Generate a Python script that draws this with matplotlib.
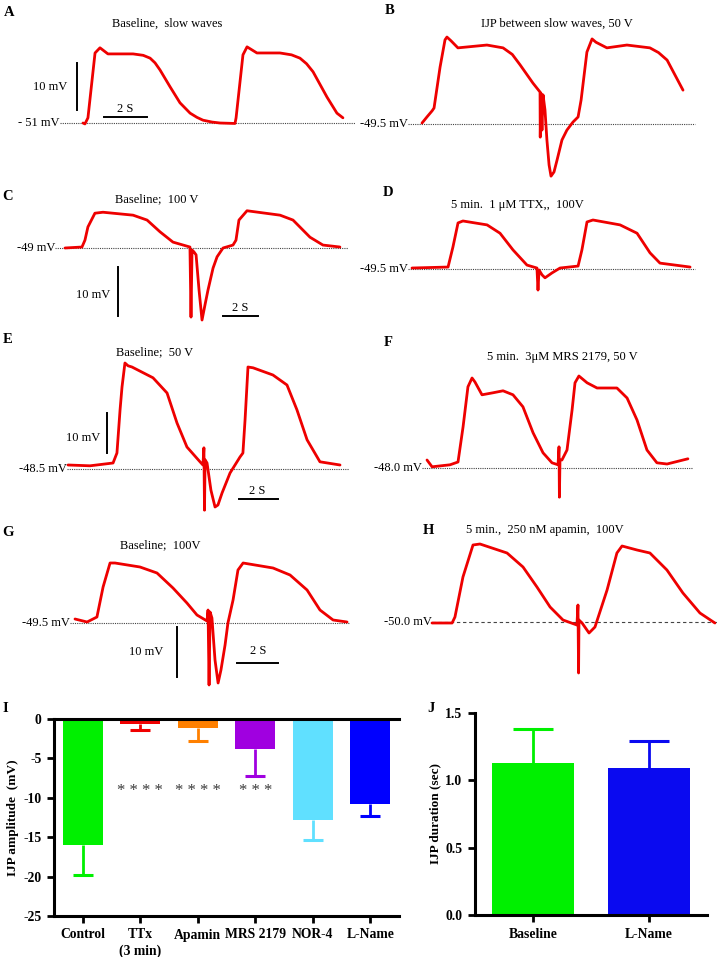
import matplotlib
matplotlib.use('Agg')
import matplotlib.pyplot as plt
import numpy as np

# ---------------- trace data (time in s, membrane potential in mV relative to baseline) ----------------
A_t = [0, 0.09, 0.23, 0.56, 0.79, 1.16, 2.33, 2.8, 3.12, 3.35, 3.58, 4.05, 4.51, 4.98, 5.3, 5.58, 6.0, 6.37, 7.07, 7.12,
       7.44, 7.63, 8.09, 9.16, 9.7, 10.09, 10.40, 10.70, 11.35, 11.81, 12.09]
A_mV = [0, -0.2, 1.1, 14.9, 16.0, 14.7, 14.7, 14.4, 13.8, 12.8, 11.3, 7.7, 4.3, 2.1, 1.2, 0.6, 0.2, 0, -0.1, 1.1,
        14.5, 16.2, 14.9, 14.9, 14.5, 13.8, 12.6, 10.9, 5.5, 2.1, 1.1]

B_t = [0, 0.23, 0.47, 0.56, 0.84, 1.07, 1.16, 1.35, 1.67, 3.02, 3.77, 4.2, 4.56, 5.16, 5.49, 5.50, 5.53,
       5.58, 5.63, 5.72, 5.81, 5.91, 6.00, 6.14, 6.28, 6.51, 6.74, 7.02, 7.26, 7.40, 7.67, 7.91, 8.09,
       8.60, 9.53, 10.6, 11.0, 11.4, 12.14]
B_mV = [0.2, 1.5, 2.8, 3.4, 12.1, 17.9, 18.5, 17.7, 16.2, 16.8, 16.2, 14.8, 12.6, 8.7, 6.8, -2.8, 6.6,
        -1.3, 6.2, 3.0, -3.4, -8.7, -11.1, -10.2, -7.7, -3.4, -1.3, 0.4, 1.5, 5.1, 15.3, 18.1, 17.4,
        16.2, 16.8, 16.2, 15.2, 13.6, 7.2]

C_t = [0, 0.97, 1.14, 1.31, 1.71, 2.17, 3.89, 4.69, 5.43, 6.17, 7.14, 7.20, 7.26, 7.37, 7.49, 7.66,
       7.83, 8.00, 8.17, 8.46, 8.69, 9.03, 9.60, 9.77, 9.94, 10.4, 12.29, 13.03, 14.0, 14.74, 15.71]
C_mV = [0, 0.2, 1.6, 4.3, 7.1, 7.3, 6.7, 5.7, 3.3, 1.2, 0.2, -14.1, -0.4, -0.8, -1.4, -8.6,
        -14.7, -11.6, -8.6, -4.1, -1.8, 0, 0.6, 1.6, 5.7, 7.6, 6.7, 5.7, 2.2, 0.6, 0.2]

D_t = [0, 2.06, 2.34, 2.63, 2.91, 4.29, 5.03, 5.77, 6.57, 7.14, 7.20, 7.26, 7.43, 7.60, 8.00, 8.46,
       9.49, 9.71, 10.0, 10.34, 11.89, 12.86, 13.6, 14.17, 15.89]
D_mV = [0.2, 0.4, 4.5, 9.4, 9.8, 9.0, 7.3, 3.9, 0.8, 0.2, -4.3, -0.2, -1.2, -1.8, -0.8, 0.2,
        0.6, 3.9, 9.6, 10.0, 9.0, 7.3, 3.3, 1.2, 0.4]

E_t = [0, 1.13, 2.31, 2.51, 2.67, 2.77, 2.92, 3.08, 3.28, 4.36, 5.08, 5.59, 6.10, 6.77, 6.92, 6.97,
       7.00, 7.03, 7.13, 7.33, 7.54, 7.69, 7.90, 8.31, 8.82, 8.97, 9.08, 9.23, 9.49, 10.51, 11.23,
       11.74, 12.26, 12.92, 13.95]
E_mV = [1.0, 0.8, 1.5, 4.0, 14.8, 20.5, 26.5, 25.8, 25.5, 22.8, 19.0, 11.5, 5.5, 1.8, 1.0, 5.3,
        -10.3, 2.3, 1.5, -5.3, -9.5, -9.0, -6.0, -1.0, 3.0, 4.0, 12.3, 25.5, 25.3, 23.5, 21.0,
        14.8, 7.3, 1.8, 1.0]

F_t = [0, 0.26, 1.18, 1.59, 1.85, 2.10, 2.31, 2.46, 2.82, 3.38, 3.90, 4.41, 4.92, 5.44, 5.95, 6.41,
       6.72, 6.77, 6.79, 6.82, 6.92, 7.18, 7.44, 7.59, 7.79, 8.21, 8.72, 9.74, 10.26, 10.77, 11.28,
       11.79, 12.31, 13.38]
F_mV = [2.0, 0.3, 0.8, 1.5, 10.3, 20.3, 22.5, 21.5, 18.3, 18.8, 19.3, 18.3, 15.3, 8.8, 3.8, 1.3,
        0.8, 5.3, -7.3, 2.0, 2.0, 4.5, 14.5, 21.3, 23.0, 21.3, 20.0, 20.0, 17.5, 12.0, 4.5,
        1.3, 1.0, 2.3]

G_t = [0, 0.59, 1.07, 1.37, 1.71, 1.95, 3.17, 4.00, 4.78, 5.46, 5.95, 6.44, 6.49, 6.54, 6.59, 6.68,
       6.83, 6.98, 7.12, 7.32, 7.46, 7.71, 7.95, 8.20, 9.66, 10.49, 11.32, 11.95, 12.59, 13.27]
G_mV = [0.8, 0.2, 1.2, 7.2, 12.0, 12.0, 11.2, 10.0, 7.0, 4.0, 1.6, 0.4, 2.6, -12.4, 2.2, 1.0,
        -7.4, -12.0, -9.4, -4.4, 0, 4.6, 10.6, 12.0, 11.0, 9.6, 6.6, 2.6, 0.6, 0.2]

H_t = [0, 0.98, 1.12, 1.51, 2.00, 2.34, 3.66, 4.44, 5.12, 5.76, 6.39, 7.07, 7.12, 7.15, 7.17, 7.32,
       7.66, 7.95, 8.54, 9.02, 9.27, 10.0, 10.63, 11.46, 12.24, 13.07, 13.8]
H_mV = [-0.2, -0.2, 1.0, 9.0, 15.4, 15.6, 13.8, 11.0, 7.0, 3.0, 0.4, -0.6, 3.4, -10.2, 0.4, -0.2,
        -2.2, -1.0, 6.4, 13.8, 15.2, 14.4, 13.8, 10.4, 5.8, 1.8, -0.2]

trace_titles = ["Baseline,  slow waves", "IJP between slow waves, 50 V", "Baseline;  100 V",
                "5 min.  1 \u03bcM TTX,,  100V", "Baseline;  50 V", "5 min.  3\u03bcM MRS 2179, 50 V",
                "Baseline;  100V", "5 min.,  250 nM apamin,  100V"]
baseline_labels = ["- 51 mV", "-49.5 mV", "-49 mV", "-49.5 mV", "-48.5 mV", "-48.0 mV",
                   "-49.5 mV", "-50.0 mV"]

# ---------------- bar data ----------------
I_categories = ["Control", "TTx\n(3 min)", "Apamin", "MRS 2179", "NOR-4", "L-Name"]
I_mean = [-16.0, -0.6, -1.2, -3.8, -12.8, -10.8]
I_err = [3.8, 0.8, 1.55, 3.4, 2.6, 1.5]
I_stars = ["", "* * * *", "* * * *", "* * *", "", ""]
I_colors = ["#00f000", "#f00000", "#ff8000", "#a000e0", "#60e0ff", "#0000ff"]

J_categories = ["Baseline", "L-Name"]
J_mean = [1.126, 1.089]
J_err = [0.257, 0.20]
J_colors = ["#00f000", "#0a0af0"]

# ---------------- figure ----------------
plt.rcParams['font.family'] = ['Liberation Serif', 'DejaVu Serif']
plt.rcParams['axes.unicode_minus'] = False
W, H = 720, 957
fig = plt.figure(figsize=(7.2, 9.57), dpi=100)
RED = '#ee0000'


def fx(x):
    return x / W


def fy(y):
    return 1 - y / H


def trace_panel(t, v, xb, yb, sx, sy, base_px, base_style, bars=None):
    ax = fig.add_axes([0, 0, 1, 1])
    ax.set_xlim(-xb / sx, (W - xb) / sx)
    ax.set_ylim(-(H - yb) / sy, yb / sy)
    ax.axis('off')
    ax.patch.set_alpha(0)
    x0, x1 = base_px
    ax.plot([(x0 - xb) / sx, (x1 - xb) / sx], [0, 0], color='#444444', lw=0.8, ls=base_style)
    ax.plot(t, v, color=RED, lw=2.0, solid_joinstyle='round', solid_capstyle='round')
    if bars:
        (vx, vyb), (hx, hy) = bars
        tv = (vx - xb) / sx
        vv = (yb - vyb) / sy
        ax.plot([tv, tv], [vv, vv + 10], color='k', lw=1.4)
        th = (hx - xb) / sx
        vh = (yb - hy) / sy
        ax.plot([th, th + 2], [vh, vh], color='k', lw=1.4)
    return ax


dot = (0, (1, 1))
trace_panel(A_t, A_mV, 83, 123, 21.5, 4.7, (60, 355), dot, ((77, 110), (104, 117)))
trace_panel(B_t, B_mV, 422, 124, 21.5, 4.7, (408, 695), dot)
trace_panel(C_t, C_mV, 65, 248, 17.5, 4.9, (55, 348), dot, ((118, 316), (223, 316)))
trace_panel(D_t, D_mV, 412, 269, 17.5, 4.9, (408, 695), dot)
trace_panel(E_t, E_mV, 68, 469, 19.5, 4.0, (67, 349), dot, ((107, 453), (239, 499)))
trace_panel(F_t, F_mV, 427, 468, 19.5, 4.0, (422, 693), dot)
trace_panel(G_t, G_mV, 75, 623, 20.5, 5.0, (70, 349), dot, ((177, 677), (237, 663)))
trace_panel(H_t, H_mV, 432, 622, 20.5, 5.0, (432, 717), (0, (3, 2.5)))

TFS = 9
# titles
title_pos = [(167, 24), (557, 24), (157, 199), (517, 205), (155, 352), (562, 357), (160, 545), (545, 530)]
for s, (x, y) in zip(trace_titles, title_pos):
    fig.text(fx(x), fy(y), s, ha='center', va='center', fontsize=TFS)
# baseline labels
bl_pos = [(60, 123), (408, 124), (55, 248), (408, 269), (67, 469), (422, 468), (70, 623), (432, 622)]
for s, (x, y) in zip(baseline_labels, bl_pos):
    fig.text(fx(x), fy(y), s, ha='right', va='center', fontsize=TFS)
# scale bar labels
for (x, y) in [(67, 87), (110, 295), (100, 438), (163, 652)]:
    fig.text(fx(x), fy(y), "10 mV", ha='right', va='center', fontsize=TFS)
for (x, y) in [(125, 109), (240, 308), (257, 491), (258, 651)]:
    fig.text(fx(x), fy(y), "2 S", ha='center', va='center', fontsize=TFS)
# panel letters
letters = [("A", 9, 12), ("B", 390, 10), ("C", 8, 197), ("D", 388, 193), ("E", 8, 340),
           ("F", 388, 342), ("G", 8, 532), ("H", 428, 530), ("I", 5, 708), ("J", 431, 709)]
for s, x, y in letters:
    fig.text(fx(x), fy(y), s, ha='center', va='center', fontsize=10.5, fontweight='bold')


def err_lines(ax, x, y, err, color, capw, direction):
    end = y + direction * err
    ax.plot([x, x], [y, end], color=color, lw=2, zorder=1, clip_on=False, solid_capstyle='butt')
    ax.plot([x - capw / 2, x + capw / 2], [end, end], color=color, lw=2.2, zorder=1,
            clip_on=False, solid_capstyle='butt')


# ---------------- panel I ----------------
BFS = 9.8
axI = fig.add_axes([fx(54), fy(916), (399 - 54) / W, (916 - 719) / H])
xi = np.arange(len(I_categories))
axI.bar(xi, I_mean, width=0.7, color=I_colors, zorder=2)
for i in range(len(xi)):
    err_lines(axI, xi[i], I_mean[i], I_err[i], I_colors[i], 0.34, -1)
    if I_stars[i]:
        axI.text(xi[i], -9.1, I_stars[i], ha='center', va='center', fontsize=12, color='#3a3a3a')
axI.set_xlim(-0.5, 5.5)
axI.set_ylim(-25, 0)
axI.set_yticks([0, -5, -10, -15, -20, -25])
axI.set_xticks(xi)
axI.set_xticklabels(I_categories, fontweight='bold', fontsize=BFS, linespacing=1.3)
for lab in axI.get_yticklabels():
    lab.set_fontweight('bold')
    lab.set_fontsize(BFS)
axI.set_ylabel("IJP amplitude  (mV)", fontweight='bold', fontsize=9.5, labelpad=3)
for side in ['left', 'bottom', 'top']:
    axI.spines[side].set_linewidth(2.2)
axI.spines['right'].set_visible(False)
axI.tick_params(width=2, length=5, direction='out', top=False, right=False, pad=4)

# ---------------- panel J ----------------
axJ = fig.add_axes([fx(475), fy(915), (707 - 475) / W, (915 - 713) / H])
xj = np.arange(len(J_categories))
axJ.bar(xj, J_mean, width=0.7, color=J_colors, zorder=2)
for i in range(len(xj)):
    err_lines(axJ, xj[i], J_mean[i], J_err[i], J_colors[i], 0.34, 1)
axJ.set_xlim(-0.5, 1.5)
axJ.set_ylim(0, 1.5)
axJ.set_yticks([0, 0.5, 1.0, 1.5])
axJ.set_yticklabels(["0.0", "0.5", "1.0", "1.5"], fontweight='bold', fontsize=BFS)
axJ.set_xticks(xj)
axJ.set_xticklabels(J_categories, fontweight='bold', fontsize=BFS)
axJ.set_ylabel("IJP duration (sec)", fontweight='bold', fontsize=9.5, labelpad=3)
for side in ['left', 'bottom']:
    axJ.spines[side].set_linewidth(2.2)
axJ.spines['right'].set_visible(False)
axJ.spines['top'].set_visible(False)
axJ.tick_params(width=2, length=5, direction='out', pad=4)

fig.savefig('out.png', dpi=100)
